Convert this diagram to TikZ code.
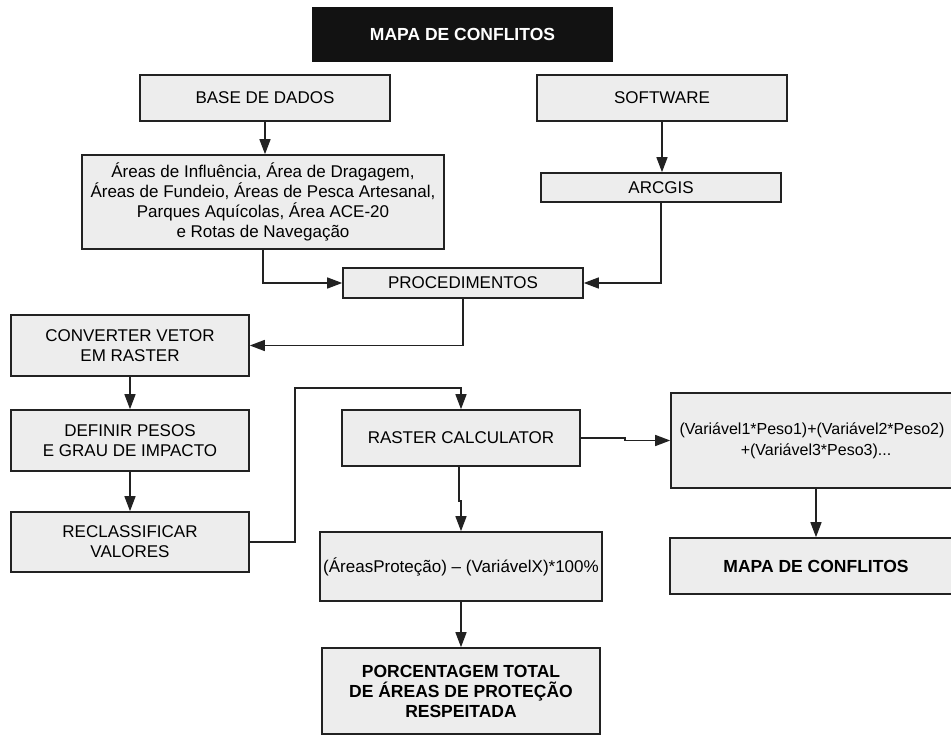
\documentclass[tikz,border=0pt]{standalone}
\usepackage{fontspec}
\setmainfont{Liberation Sans}
\usetikzlibrary{arrows.meta, positioning, calc}
\definecolor{boxc}{HTML}{EDEDED}
\definecolor{linec}{HTML}{222222}
\definecolor{titc}{HTML}{121212}
% name, centre, width, height, text
\newcommand{\flowbox}[6][]{%
  \node[box, minimum width=#4, minimum height=#5, #1] (#2) at #3 {#6};
}

\begin{document}
\begin{tikzpicture}[x=1pt, y=-1pt, >={Triangle[length=15pt, width=11pt]},
    box/.style={rectangle, draw=linec, fill=boxc, line width=1.6pt,
      align=center, inner sep=2pt, text=black,
      font=\fontsize{17}{20}\selectfont},
    bold/.style={font=\bfseries\fontsize{17.5}{20}\selectfont},
    link/.style={->, draw=linec, line width=1.4pt}]
  \useasboundingbox[fill=white] (0,0) rectangle (951,735);

  \flowbox[bold, fill=titc, draw=titc, text=white]{title}{(462.5,34.5)}{299}{53}{MAPA DE CONFLITOS}
  \flowbox{base}{(265,98)}{250}{46}{BASE DE DADOS}
  \flowbox{soft}{(662,98)}{250}{46}{SOFTWARE}
  \flowbox{areas}{(263,202)}{362}{94}{Áreas de Influência, Área de Dragagem,\\
    Áreas de Fundeio, Áreas de Pesca Artesanal,\\
    Parques Aquícolas, Área ACE-20\\ e Rotas de Navegação}
  \flowbox{arcgis}{(661,187.5)}{240}{29}{ARCGIS}
  \flowbox{proc}{(463,283)}{240}{30}{PROCEDIMENTOS}
  \flowbox{conv}{(130,345.5)}{238}{61}{CONVERTER VETOR\\ EM RASTER}
  \flowbox{defin}{(130,440.5)}{238}{61}{DEFINIR PESOS\\ E GRAU DE IMPACTO}
  \flowbox{recl}{(130,542)}{238}{60}{RECLASSIFICAR\\ VALORES}
  \flowbox{raster}{(461,438)}{238}{56}{RASTER CALCULATOR}
  \flowbox[inner sep=0pt, font=\fontsize{16}{21}\selectfont]{formula}{(816,440.5)}{290}{95}{%
    \hspace*{-8pt}(Variável1*Peso1)+(Variável2*Peso2)\\ +(Variável3*Peso3)...}
  \flowbox[bold]{mapa}{(816,566)}{292}{56}{MAPA DE CONFLITOS}
  \flowbox[inner sep=0pt]{protec}{(461,566.5)}{282}{69}{(ÁreasProteção) -- (VariávelX)*100\%}
  \flowbox[bold]{porc}{(461,691)}{278}{86}{PORCENTAGEM TOTAL\\
    DE ÁREAS DE PROTEÇÃO\\ RESPEITADA}

  \draw[link] (base.south) -- (base.south |- areas.north);
  \draw[link] (soft.south) -- (soft.south |- arcgis.north);
  \draw[link] (areas.south) |- (proc.west);
  \draw[link] (arcgis.south) |- (proc.east);
  \draw[link] (proc.south) |- (conv.east);
  \draw[link] (conv) -- (defin);
  \draw[link] (defin) -- (recl);
  \draw[link] (recl.east) -- ++(45,0) |- ($(raster.north)+(0,-21)$) -- (raster.north);
  \draw[link] (raster.east) -- ++(44,0) |- (formula.west);
  \draw[link] (formula) -- (mapa);
  \draw[link] ($(raster.south)+(-2,0)$) -- ++(0,34) -| (protec.north);
  \draw[link] (protec) -- (porc);
\end{tikzpicture}
\end{document}
